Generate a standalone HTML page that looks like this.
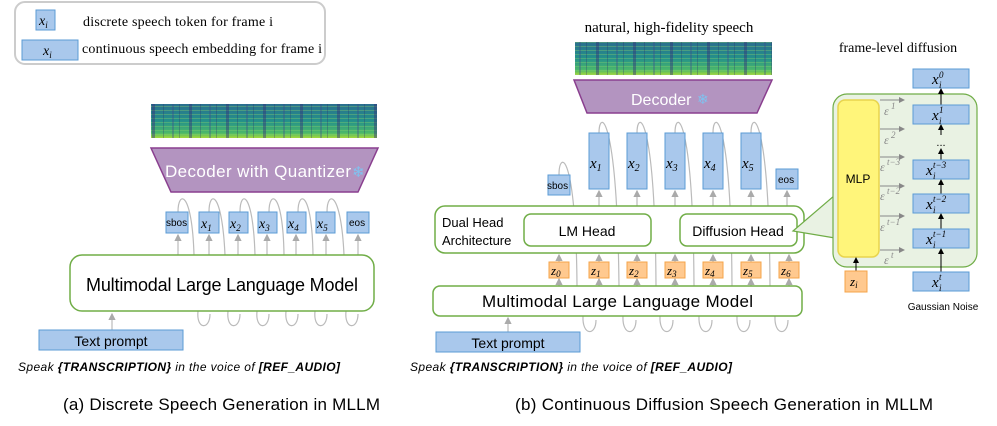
<!DOCTYPE html>
<html><head><meta charset="utf-8"><style>
body{margin:0;background:#fff;width:997px;height:426px;overflow:hidden}
svg{display:block}
.s{font-family:"Liberation Sans",sans-serif}
.r{font-family:"Liberation Serif",serif}
</style></head><body>
<svg width="997" height="426" viewBox="0 0 997 426" xmlns="http://www.w3.org/2000/svg">
<defs>
<linearGradient id="sp" x1="0" y1="0" x2="0" y2="1">
<stop offset="0" stop-color="#2a6f8e"/><stop offset="0.5" stop-color="#24918a"/><stop offset="0.85" stop-color="#4cb86a"/><stop offset="1" stop-color="#a5d83a"/>
</linearGradient>
<pattern id="st" width="37" height="40" patternUnits="userSpaceOnUse">
<rect x="4" width="3" height="40" fill="#34307a" opacity="0.45"/>
<rect x="15" width="1" height="40" fill="#2c2f6e" opacity="0.3"/>
<rect x="24" width="2" height="40" fill="#3b4a8c" opacity="0.35"/>
<rect x="31" width="1" height="40" fill="#2c2f6e" opacity="0.3"/>
</pattern>
<pattern id="hl" width="10" height="4" patternUnits="userSpaceOnUse">
<rect y="2" width="10" height="1" fill="#8fd46a" opacity="0.35"/>
</pattern>
<marker id="ag" markerWidth="6" markerHeight="6" refX="5" refY="3" orient="auto"><path d="M0,0 L6,3 L0,6z" fill="#aaa"/></marker>
<marker id="ab" markerWidth="6" markerHeight="6" refX="5" refY="3" orient="auto"><path d="M0,0 L6,3 L0,6z" fill="#000"/></marker>
<marker id="ae" markerWidth="6" markerHeight="6" refX="5" refY="3" orient="auto"><path d="M0,0 L6,3 L0,6z" fill="#888"/></marker>
</defs>

<!-- legend -->
<rect x="15" y="2" width="310" height="62" rx="10" fill="#fff" stroke="#ccc" stroke-width="2"/>
<rect x="36" y="10" width="19" height="20" fill="#a9c8ec" stroke="#5b9bd5"/>
<text x="39" y="25" class="r" font-style="italic" font-size="14">x<tspan font-size="9" dy="3">i</tspan></text>
<text x="83" y="26" class="r" font-size="14" textLength="190">discrete speech token for frame i</text>
<rect x="22" y="40" width="56" height="20" fill="#a9c8ec" stroke="#5b9bd5"/>
<text x="43" y="55" class="r" font-style="italic" font-size="14">x<tspan font-size="9" dy="3">i</tspan></text>
<text x="82" y="53" class="r" font-size="14" textLength="240">continuous speech embedding for frame i</text>

<!-- left spectrogram -->
<rect x="151" y="104" width="226" height="34" fill="url(#sp)"/>
<rect x="151" y="104" width="226" height="34" fill="url(#hl)"/>
<rect x="151" y="104" width="226" height="34" fill="url(#st)"/>
<polygon points="151,148 378,148 358,192 171,192" fill="#b394c0" stroke="#8a3f8f" stroke-width="1.5"/>
<text x="165" y="177" class="s" font-size="17" fill="#fff" textLength="186">Decoder with Quantizer</text>
<text x="352" y="177" font-size="15" fill="#7fc3f0">❄</text>

<!-- left loops -->
<g fill="none" stroke="#bbb" stroke-width="1.2">
<path d="M178,212 C178,190 192,190 194,255"/>
<path d="M209,212 C209,190 222,190 225,255"/>
<path d="M240,212 C240,190 253,190 255,255"/>
<path d="M269,212 C269,190 283,190 284,255"/>
<path d="M298,212 C298,190 312,190 313,255"/>
<path d="M327,212 C327,190 341,190 344,255"/>
<path d="M198,311 C196,330 210,330 210,314"/>
<path d="M228,311 C226,330 240,330 240,314"/>
<path d="M257,311 C255,330 269,330 269,314"/>
<path d="M286,311 C284,330 298,330 298,314"/>
<path d="M315,311 C313,330 327,330 327,314"/>
<path d="M346,311 C344,330 358,330 358,314"/>
</g>
<g stroke="#bbb" stroke-width="1.2" marker-end="url(#ag)">
<line x1="178" y1="255" x2="178" y2="235"/><line x1="209" y1="255" x2="209" y2="235"/><line x1="238" y1="255" x2="238" y2="235"/><line x1="267" y1="255" x2="267" y2="235"/><line x1="296" y1="255" x2="296" y2="235"/><line x1="326" y1="255" x2="326" y2="235"/><line x1="358" y1="255" x2="358" y2="235"/>
<line x1="112" y1="330" x2="112" y2="314"/>
</g>
<g fill="#a9c8ec" stroke="#5b9bd5">
<rect x="166" y="212" width="22" height="21"/><rect x="199" y="212" width="20" height="21"/><rect x="229" y="212" width="19" height="21"/><rect x="258" y="212" width="19" height="21"/><rect x="287" y="212" width="19" height="21"/><rect x="316" y="212" width="19" height="21"/><rect x="347" y="212" width="22" height="21"/>
</g>
<g class="r" font-style="italic" font-size="14">
<text x="201" y="228">x<tspan font-size="9" dy="3">1</tspan></text><text x="230" y="228">x<tspan font-size="9" dy="3">2</tspan></text><text x="259" y="228">x<tspan font-size="9" dy="3">3</tspan></text><text x="288" y="228">x<tspan font-size="9" dy="3">4</tspan></text><text x="317" y="228">x<tspan font-size="9" dy="3">5</tspan></text>
</g>
<text x="166" y="226" class="s" font-size="10">sbos</text>
<text x="349" y="226" class="s" font-size="10">eos</text>
<rect x="70" y="255" width="304" height="56" rx="12" fill="#fff" stroke="#70ad47" stroke-width="1.5"/>
<text x="86" y="291" class="s" font-size="18" textLength="272">Multimodal Large Language Model</text>
<rect x="39" y="330" width="144" height="20" fill="#a9c8ec" stroke="#5b9bd5"/>
<text x="111" y="346" class="s" font-size="14" text-anchor="middle">Text prompt</text>
<text x="18" y="371" class="s" font-size="12" font-style="italic" textLength="322">Speak <tspan font-weight="bold">{TRANSCRIPTION}</tspan> in the voice of <tspan font-weight="bold">[REF_AUDIO]</tspan></text>
<text x="63" y="410" class="s" font-size="17" textLength="317">(a) Discrete Speech Generation in MLLM</text>

<!-- middle -->
<text x="669" y="32" class="r" font-size="15" text-anchor="middle">natural, high-fidelity speech</text>
<rect x="575" y="42" width="197" height="33" fill="url(#sp)"/>
<rect x="575" y="42" width="197" height="33" fill="url(#hl)"/>
<rect x="575" y="42" width="197" height="33" fill="url(#st)"/>
<polygon points="574,80 772,80 757,113 587,113" fill="#b394c0" stroke="#8a3f8f" stroke-width="1.5"/>
<text x="631" y="105" class="s" font-size="16" fill="#fff">Decoder</text>
<text x="697" y="104" font-size="14" fill="#7fc3f0">❄</text>

<g fill="none" stroke="#bbb" stroke-width="1.2">
<path d="M559,175 C559,150 576,150 577,286"/>
<path d="M599,133 C599,110 617,110 619,286"/>
<path d="M637,133 C637,110 655,110 656,286"/>
<path d="M675,133 C675,110 693,110 694,286"/>
<path d="M713,133 C713,110 731,110 732,286"/>
<path d="M751,133 C751,110 769,110 770,286"/>
<path d="M583,316 C582,336 596,336 596,320"/>
<path d="M623,316 C622,336 636,336 636,320"/>
<path d="M660,316 C659,336 673,336 673,320"/>
<path d="M699,316 C698,336 712,336 712,320"/>
<path d="M737,316 C736,336 750,336 750,320"/>
<path d="M775,316 C774,336 788,336 788,320"/>
</g>
<g stroke="#bbb" stroke-width="1.2" marker-end="url(#ag)">
<line x1="599" y1="206" x2="599" y2="191"/><line x1="637" y1="206" x2="637" y2="191"/><line x1="675" y1="206" x2="675" y2="191"/><line x1="713" y1="206" x2="713" y2="191"/><line x1="751" y1="206" x2="751" y2="191"/><line x1="787" y1="206" x2="787" y2="191"/>
<line x1="559" y1="286" x2="559" y2="279"/><line x1="599" y1="286" x2="599" y2="279"/><line x1="637" y1="286" x2="637" y2="279"/><line x1="675" y1="286" x2="675" y2="279"/><line x1="713" y1="286" x2="713" y2="279"/><line x1="751" y1="286" x2="751" y2="279"/><line x1="789" y1="286" x2="789" y2="279"/>
<line x1="559" y1="262" x2="559" y2="255"/><line x1="599" y1="262" x2="599" y2="255"/><line x1="637" y1="262" x2="637" y2="255"/><line x1="675" y1="262" x2="675" y2="255"/><line x1="713" y1="262" x2="713" y2="255"/><line x1="751" y1="262" x2="751" y2="255"/><line x1="789" y1="262" x2="789" y2="255"/>
<line x1="508" y1="332" x2="508" y2="318"/>
</g>
<g fill="#a9c8ec" stroke="#5b9bd5">
<rect x="548" y="175" width="22" height="20"/><rect x="589" y="133" width="20" height="56"/><rect x="627" y="133" width="20" height="56"/><rect x="665" y="133" width="20" height="56"/><rect x="703" y="133" width="20" height="56"/><rect x="741" y="133" width="20" height="56"/><rect x="776" y="169" width="22" height="20"/>
</g>
<text x="547" y="189" class="s" font-size="10">sbos</text>
<text x="778" y="183" class="s" font-size="10">eos</text>
<g class="r" font-style="italic" font-size="15">
<text x="590" y="168">x<tspan font-size="10" dy="3">1</tspan></text><text x="628" y="168">x<tspan font-size="10" dy="3">2</tspan></text><text x="666" y="168">x<tspan font-size="10" dy="3">3</tspan></text><text x="704" y="168">x<tspan font-size="10" dy="3">4</tspan></text><text x="742" y="168">x<tspan font-size="10" dy="3">5</tspan></text>
</g>
<rect x="435" y="206" width="369" height="47" rx="10" fill="#fff" stroke="#70ad47" stroke-width="1.5"/>
<text x="442" y="227" class="s" font-size="13">Dual Head</text>
<text x="442" y="245" class="s" font-size="13">Architecture</text>
<rect x="524" y="214" width="127" height="32" rx="7" fill="#fff" stroke="#70ad47" stroke-width="1.5"/>
<text x="587" y="236" class="s" font-size="14" text-anchor="middle">LM Head</text>
<rect x="680" y="214" width="117" height="32" rx="7" fill="#fff" stroke="#70ad47" stroke-width="1.5"/>
<text x="738" y="236" class="s" font-size="14" text-anchor="middle">Diffusion Head</text>
<g fill="#ffc98f" stroke="#f4a44a">
<rect x="549" y="262" width="20" height="16"/><rect x="589" y="262" width="20" height="16"/><rect x="627" y="262" width="20" height="16"/><rect x="665" y="262" width="20" height="16"/><rect x="703" y="262" width="20" height="16"/><rect x="741" y="262" width="20" height="16"/><rect x="779" y="262" width="20" height="16"/>
</g>
<g class="r" font-style="italic" font-size="13">
<text x="551" y="275">z<tspan font-size="9" dy="2">0</tspan></text><text x="591" y="275">z<tspan font-size="9" dy="2">1</tspan></text><text x="629" y="275">z<tspan font-size="9" dy="2">2</tspan></text><text x="667" y="275">z<tspan font-size="9" dy="2">3</tspan></text><text x="705" y="275">z<tspan font-size="9" dy="2">4</tspan></text><text x="743" y="275">z<tspan font-size="9" dy="2">5</tspan></text><text x="781" y="275">z<tspan font-size="9" dy="2">6</tspan></text>
</g>
<rect x="433" y="286" width="369" height="30" rx="7" fill="#fff" stroke="#70ad47" stroke-width="1.5"/>
<text x="482" y="307" class="s" font-size="17" textLength="271">Multimodal Large Language Model</text>
<rect x="436" y="332" width="144" height="20" fill="#a9c8ec" stroke="#5b9bd5"/>
<text x="508" y="348" class="s" font-size="14" text-anchor="middle">Text prompt</text>
<text x="410" y="371" class="s" font-size="12" font-style="italic" textLength="322">Speak <tspan font-weight="bold">{TRANSCRIPTION}</tspan> in the voice of <tspan font-weight="bold">[REF_AUDIO]</tspan></text>
<text x="515" y="410" class="s" font-size="17" textLength="418">(b) Continuous Diffusion Speech Generation in MLLM</text>

<!-- right -->
<text x="898" y="52" class="r" font-size="14" text-anchor="middle">frame-level diffusion</text>
<polygon points="793,231 835,195 835,238" fill="#e9f2e3" stroke="#70ad47" stroke-width="1.2"/>
<rect x="833" y="94" width="144" height="173" rx="14" fill="#e9f2e3" stroke="#70ad47" stroke-width="1.2"/>
<rect x="838" y="100" width="41" height="157" rx="7" fill="#fff57a" stroke="#e8d44d" stroke-width="1.5"/>
<text x="858" y="183" class="s" font-size="12" text-anchor="middle">MLP</text>
<g stroke="#888" stroke-width="1" marker-end="url(#ae)">
<line x1="880" y1="100" x2="904" y2="100"/><line x1="880" y1="129" x2="904" y2="129"/><line x1="880" y1="157" x2="904" y2="157"/><line x1="880" y1="186" x2="904" y2="186"/><line x1="880" y1="216" x2="904" y2="216"/><line x1="880" y1="250" x2="904" y2="250"/>
</g>
<g class="r" font-style="italic" font-size="12" fill="#888">
<text x="884" y="115">ε</text><text x="891" y="109" font-size="9">1</text>
<text x="884" y="144">ε</text><text x="891" y="138" font-size="9">2</text>
<text x="880" y="171">ε</text><text x="887" y="165" font-size="9">t−3</text>
<text x="880" y="200">ε</text><text x="887" y="194" font-size="9">t−2</text>
<text x="880" y="231">ε</text><text x="887" y="225" font-size="9">t−1</text>
<text x="884" y="264">ε</text><text x="891" y="258" font-size="9">t</text>
</g>
<g stroke="#000" stroke-width="1" marker-end="url(#ab)">
<line x1="941" y1="105" x2="941" y2="89"/><line x1="941" y1="135" x2="941" y2="125"/><line x1="941" y1="160" x2="941" y2="149"/><line x1="941" y1="194" x2="941" y2="180"/><line x1="941" y1="229" x2="941" y2="214"/><line x1="941" y1="272" x2="941" y2="249"/>
<line x1="856" y1="271" x2="856" y2="258"/>
</g>
<text x="941" y="146" class="s" font-size="11" text-anchor="middle">...</text>
<g fill="#a9c8ec" stroke="#5b9bd5">
<rect x="913" y="69" width="56" height="19"/><rect x="913" y="105" width="56" height="19"/><rect x="913" y="160" width="56" height="19"/><rect x="913" y="194" width="56" height="19"/><rect x="913" y="229" width="56" height="19"/><rect x="913" y="272" width="56" height="19"/>
</g>
<g class="r" font-style="italic">
<text x="932" y="84" font-size="15">x</text><text x="939" y="88" font-size="9">i</text><text x="939" y="78" font-size="9">0</text>
<text x="932" y="120" font-size="15">x</text><text x="939" y="124" font-size="9">i</text><text x="939" y="113" font-size="9">1</text>
<text x="926" y="175" font-size="15">x</text><text x="933" y="179" font-size="9">i</text><text x="933" y="168" font-size="9">t−3</text>
<text x="926" y="209" font-size="15">x</text><text x="933" y="213" font-size="9">i</text><text x="933" y="202" font-size="9">t−2</text>
<text x="926" y="244" font-size="15">x</text><text x="933" y="248" font-size="9">i</text><text x="933" y="237" font-size="9">t−1</text>
<text x="932" y="287" font-size="15">x</text><text x="939" y="291" font-size="9">i</text><text x="939" y="280" font-size="9">t</text>
</g>
<rect x="845" y="271" width="22" height="21" fill="#ffc98f" stroke="#f4a44a"/>
<text x="850" y="286" class="r" font-style="italic" font-size="13">z<tspan font-size="9" dy="2">i</tspan></text>
<text x="943" y="310" class="s" font-size="10" text-anchor="middle">Gaussian Noise</text>
</svg>
</body></html>
